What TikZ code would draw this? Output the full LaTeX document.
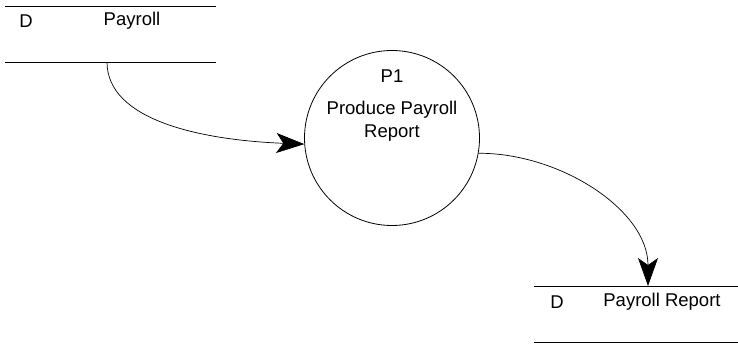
\documentclass[tikz,border=0pt]{standalone}
\usepackage{fontspec}
\setmainfont{Liberation Sans}
\usetikzlibrary{arrows.meta}
\begin{document}
\begin{tikzpicture}[x=1pt,y=1pt,
  lbl/.style={font=\fontsize{18.5}{22}\selectfont, inner sep=0pt},
  storeline/.style={line width=0.8pt},
  flow/.style={line width=0.7pt, -{Stealth[length=28pt,width=20pt,inset=7pt]}},
  proc/.style={circle, draw, line width=0.8pt, minimum size=175pt, inner sep=0pt}]
\useasboundingbox (0,0) rectangle (738,-344);
% store D Payroll
\coordinate (s1tl) at (5,-6);
\coordinate (s1tr) at (216,-6);
\coordinate (s1bl) at (5,-62);
\coordinate (s1br) at (216,-62);
\coordinate (s1out) at (107,-62);
\draw[storeline] (s1tl) -- (s1tr);
\draw[storeline] (s1bl) -- (s1br);
\node[lbl] (s1d) at (26,-21) {D};
\node[lbl] (s1n) at (132,-21) {Payroll};
% process
\node[proc] (p1) at (392,-138) {};
\node[lbl] (p1id) at (392,-76) {P1};
\node[lbl, align=center] (p1n) at (392,-121) {Produce Payroll\\[1.5pt]Report};
% store D Payroll Report
\coordinate (s2tl) at (534,-286);
\coordinate (s2tr) at (738,-286);
\coordinate (s2bl) at (534,-342.5);
\coordinate (s2br) at (738,-342.5);
\coordinate (s2in) at (648,-286);
\draw[storeline] (s2tl) -- (s2tr);
\draw[storeline] (s2bl) -- (s2br);
\node[lbl] (s2d) at (557,-302) {D};
\node[lbl] (s2n) at (662,-302) {Payroll Report};
% flows
\draw[flow] (s1out) .. controls (107,-120) and (200,-140) .. (p1.184);
\draw[flow] (p1.350) .. controls (560,-153) and (648,-210) .. (s2in);
\end{tikzpicture}
\end{document}
